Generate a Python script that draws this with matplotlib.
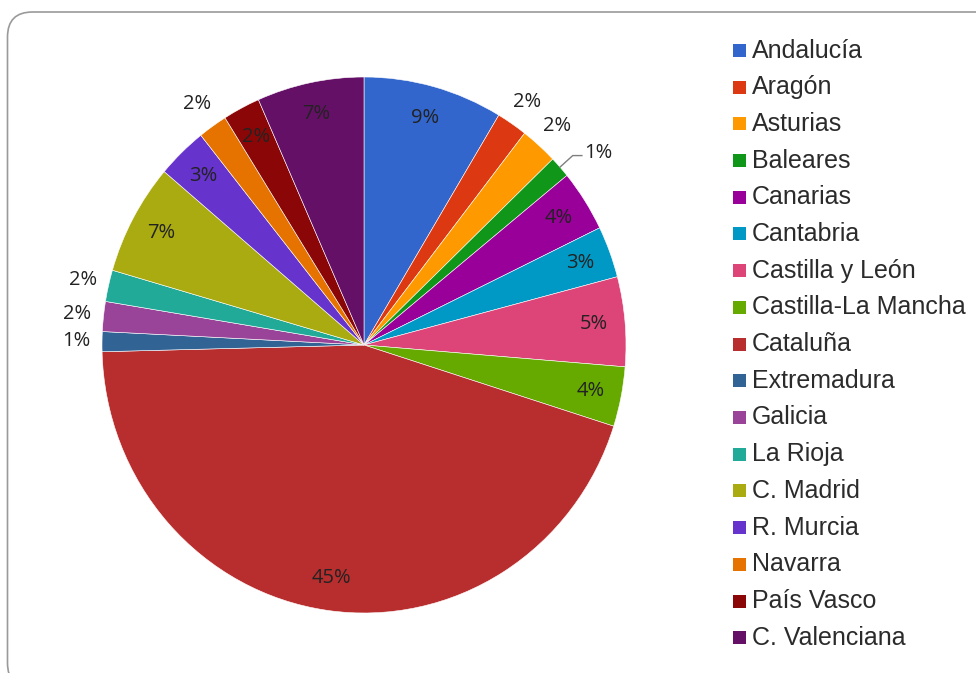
import numpy as np
import matplotlib
matplotlib.use("Agg")
import matplotlib.pyplot as plt
from matplotlib.patches import FancyBboxPatch, Rectangle

# Data (share per region, %)
regions = ["Andalucía", "Aragón", "Asturias", "Baleares", "Canarias", "Cantabria",
           "Castilla y León", "Castilla-La Mancha", "Cataluña", "Extremadura",
           "Galicia", "La Rioja", "C. Madrid", "R. Murcia", "Navarra",
           "País Vasco", "C. Valenciana"]
shares = [8.6, 1.9, 2.3, 1.3, 3.7, 3.1, 5.4, 3.6, 44.7, 1.2,
          1.8, 1.9, 6.7, 3.1, 1.8, 2.3, 6.6]
colors = ["#3366CC", "#DC3912", "#FF9900", "#109618", "#990099", "#0099C6",
          "#DD4477", "#66AA00", "#B82E2E", "#316395", "#994499", "#22AA99",
          "#AAAA11", "#6633CC", "#E67300", "#8B0707", "#651067"]
# where the % label goes: inside, outside, or with a leader line
label_place = ["in", "out", "out", "leader", "in", "in", "in", "in", "in", "out",
               "out", "out", "in", "in", "out", "in", "in"]

W, H = 976, 673
fig = plt.figure(figsize=(W / 100, H / 100), dpi=100)

# rounded frame around the chart
frame = FancyBboxPatch((0.075, -0.15), 10.2, 6.76, boxstyle="round,pad=0,rounding_size=0.25",
                       transform=fig.dpi_scale_trans, facecolor="none",
                       edgecolor="#9a9a9a", linewidth=1.2)
fig.patches.append(frame)

# pie axes: centre (364, 345) px from top-left, radii 262 x 268 px (slightly stretched)
cx, cy, rx, ry = 364, 345, 262, 268
ax = fig.add_axes([(cx - rx) / W, (H - cy - ry) / H, 2 * rx / W, 2 * ry / H])
wedges, _ = ax.pie(shares, colors=colors, startangle=90, counterclock=False,
                   wedgeprops=dict(edgecolor="white", linewidth=0.4))
ax.set_xlim(-1, 1)
ax.set_ylim(-1, 1)
ax.set_aspect("auto")

total = sum(shares)
for w, v, place in zip(wedges, shares, label_place):
    ang = np.deg2rad((w.theta1 + w.theta2) / 2)
    txt = "%d%%" % round(v / total * 100)
    c, s = np.cos(ang), np.sin(ang)
    kw = dict(fontsize=14.5, family="Open Sans", color="#222222", va="center")
    if place == "in":
        ax.text(0.88 * c, 0.88 * s, txt, ha="center", **kw)
    elif place == "out":
        ax.text(1.1 * c, 1.1 * s, txt, ha="center", **kw)
    else:
        ex, ey = 1.065 * c, 1.065 * s
        ax.plot([1.0 * c, ex, ex + 0.035], [1.0 * s, ey, ey], color="#7f7f7f", lw=1,
                clip_on=False)
        ax.text(ex + 0.045, ey + 0.01, txt, ha="left", **kw)

# legend drawn in pixel positions
for i, (name, col) in enumerate(zip(regions, colors)):
    y = 50.5 + i * 36.7
    fig.patches.append(Rectangle((733 / W, (H - y - 6.5) / H), 13 / W, 13 / H,
                                 transform=fig.transFigure, facecolor=col,
                                 edgecolor="none"))
    fig.text(752 / W, (H - y) / H, name, fontsize=18, family="Liberation Sans",
             color="#2b2b2b", va="center", ha="left")

fig.savefig("out.png", dpi=100)
